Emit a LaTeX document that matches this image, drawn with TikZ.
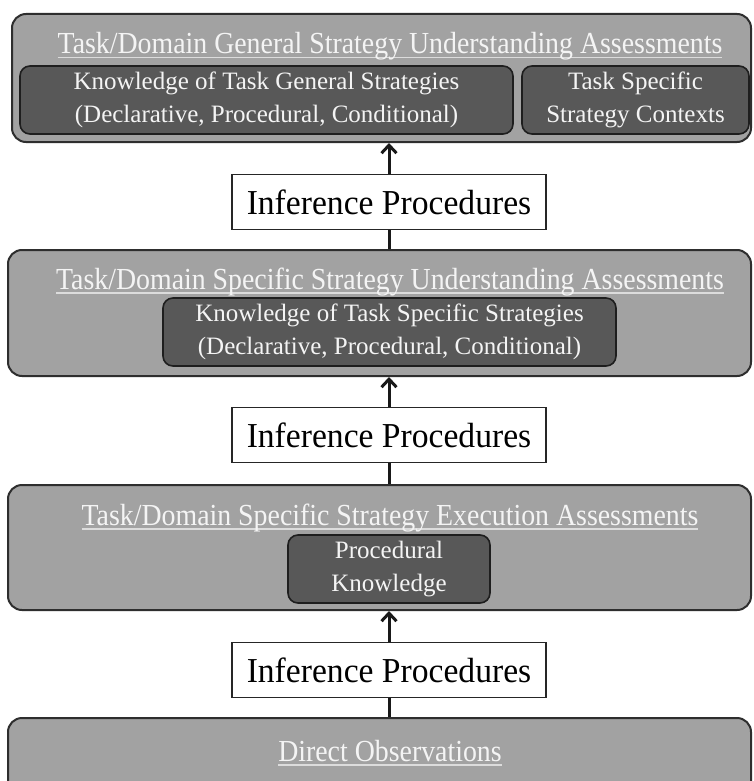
\documentclass[tikz,border=0pt]{standalone}
\usepackage{fontspec}
\setmainfont{Liberation Serif}
\newfontfamily\titlefont{Liberation Serif}[FakeStretch=0.91]
\newfontfamily\inffont{Liberation Serif}[FakeStretch=0.96]
\usetikzlibrary{arrows.meta}
\definecolor{outerfill}{HTML}{A2A2A2}
\definecolor{outerline}{HTML}{2E2E2E}
\definecolor{innerfill}{HTML}{585858}
\definecolor{innerline}{HTML}{1E1E1E}
\definecolor{lighttext}{HTML}{F4F4F4}
\definecolor{ulcolor}{HTML}{DCDCDC}
\newlength\ulw
\newcommand\myul[1]{\settowidth\ulw{#1}\rlap{\textcolor{ulcolor}{\rule[-4.5pt]{\ulw}{1.5pt}}}#1}
\tikzset{
  outerbox/.style={draw=outerline, line width=2pt, fill=outerfill, rounded corners=14pt, inner sep=0pt},
  innerbox/.style={draw=innerline, line width=1.6pt, fill=innerfill, rounded corners=10pt, inner sep=0pt,
    text=lighttext, align=center, font=\fontsize{25}{33}\selectfont},
  titletext/.style={text=lighttext, anchor=base, inner sep=0pt, font=\titlefont\fontsize{30.6}{33}\selectfont},
  infbox/.style={draw=black!85, line width=1.3pt, fill=white, inner sep=0pt,
    minimum width=314pt, minimum height=55pt, font=\inffont\fontsize{35}{40}\selectfont},
  conn/.style={line width=3pt, draw=black!90},
  arr/.style={conn, -{Straight Barb[length=8pt,width=15pt]}}
}
\begin{document}
\begin{tikzpicture}[x=1pt,y=-1pt]
\clip (0,0) rectangle (753,781);
\fill[white] (0,0) rectangle (753,781);
% outer boxes
\node[outerbox, minimum width=739pt, minimum height=128pt] (A) at (381.5,78) {};
\node[outerbox, minimum width=743pt, minimum height=126pt] (B) at (379.5,313) {};
\node[outerbox, minimum width=743pt, minimum height=125pt] (C) at (379.5,547.5) {};
\node[outerbox, minimum width=743pt, minimum height=82pt] (D) at (379.5,759) {};
% titles
\node[titletext] (tA) at (390,54) {\myul{Task/Domain General Strategy Understanding Assessments}};
\node[titletext] (tB) at (390,289) {\myul{Task/Domain Specific Strategy Understanding Assessments}};
\node[titletext] (tC) at (390,525) {\myul{Task/Domain Specific Strategy Execution Assessments}};
\node[titletext] (tD) at (390,761) {\myul{Direct Observations}};
% inner boxes
\node[innerbox, minimum width=493pt, minimum height=68pt] (A1) at (266.5,100)
  {Knowledge of Task General Strategies\\(Declarative, Procedural, Conditional)};
\node[innerbox, minimum width=227pt, minimum height=68pt] (A2) at (635.5,100)
  {Task Specific\\Strategy Contexts};
\node[innerbox, minimum width=453pt, minimum height=68pt] (B1) at (389.5,332)
  {Knowledge of Task Specific Strategies\\(Declarative, Procedural, Conditional)};
\node[innerbox, minimum width=202pt, minimum height=68pt] (C1) at (389,569)
  {Procedural\\Knowledge};
% inference boxes
\node[infbox] (I1) at (389,202) {Inference Procedures};
\node[infbox] (I2) at (389,435) {Inference Procedures};
\node[infbox] (I3) at (389,670) {Inference Procedures};
% connectors
\draw[arr] (I1.north) -- (I1.north |- A.south);
\draw[conn] (I1.south) -- (I1.south |- B.north);
\draw[arr] (I2.north) -- (I2.north |- B.south);
\draw[conn] (I2.south) -- (I2.south |- C.north);
\draw[arr] (I3.north) -- (I3.north |- C.south);
\draw[conn] (I3.south) -- (I3.south |- D.north);
\end{tikzpicture}
\end{document}
